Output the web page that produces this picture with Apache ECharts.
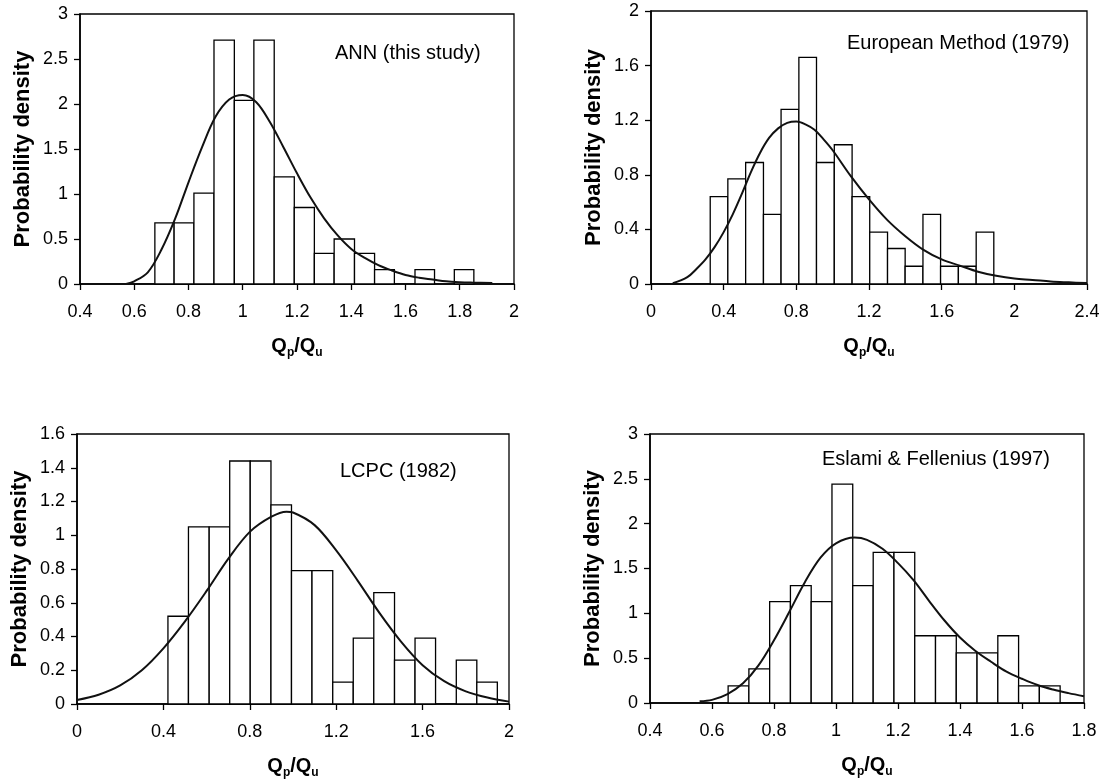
<!DOCTYPE html>
<html>
<head>
<meta charset="utf-8">
<title>Probability density of Qp/Qu</title>
<script src="https://cdn.jsdelivr.net/npm/echarts@6/dist/echarts.min.js"></script>
<style>
  html, body { margin: 0; padding: 0; background: #fff; }
  #chart { width: 1113px; height: 784px; }
</style>
</head>
<body>
<div id="chart"></div>
<script>
// ---- Histogram bin edges and densities (Qp/Qu), plus fitted density curves ----

// ANN (this study)
const annEdges = [0.676, 0.747, 0.820, 0.894, 0.969, 1.041, 1.116, 1.190, 1.264,
                  1.337, 1.412, 1.486, 1.559, 1.635, 1.707, 1.780, 1.852];
const annDensity = [0.68, 0.68, 1.01, 2.71, 2.04, 2.71, 1.19, 0.85,
                    0.34, 0.50, 0.34, 0.16, 0, 0.16, 0, 0.16];
const annCurveX = [0.57, 0.60, 0.65, 0.70, 0.75, 0.80, 0.85, 0.90, 0.95, 1.00, 1.05,
                   1.10, 1.15, 1.20, 1.25, 1.30, 1.35, 1.40, 1.45, 1.50, 1.55, 1.60,
                   1.65, 1.70, 1.75, 1.80, 1.85, 1.92];
const annCurveY = [0.00, 0.03, 0.13, 0.38, 0.72, 1.13, 1.52, 1.86, 2.05, 2.10, 2.02,
                   1.80, 1.52, 1.23, 0.96, 0.73, 0.54, 0.39, 0.29, 0.21, 0.15, 0.10,
                   0.07, 0.05, 0.03, 0.02, 0.015, 0.01];

// European Method (1979)
const euroEdges = [0.326, 0.423, 0.521, 0.619, 0.716, 0.814, 0.911, 1.009, 1.107,
                   1.204, 1.302, 1.399, 1.497, 1.594, 1.692, 1.790, 1.887];
const euroDensity = [0.64, 0.77, 0.89, 0.51, 1.28, 1.66, 0.89, 1.02,
                     0.64, 0.38, 0.26, 0.13, 0.51, 0.13, 0.13, 0.38];
const euroCurveX = [0.12, 0.20, 0.25, 0.30, 0.35, 0.40, 0.45, 0.50, 0.55, 0.60, 0.65,
                    0.70, 0.75, 0.80, 0.85, 0.90, 0.95, 1.00, 1.10, 1.20, 1.30, 1.40,
                    1.50, 1.60, 1.70, 1.80, 1.90, 2.00, 2.10, 2.20, 2.30, 2.40];
const euroCurveY = [0.005, 0.05, 0.11, 0.18, 0.27, 0.38, 0.51, 0.66, 0.82, 0.96, 1.07,
                    1.14, 1.18, 1.19, 1.17, 1.13, 1.06, 0.98, 0.79, 0.62, 0.47, 0.35,
                    0.25, 0.18, 0.135, 0.09, 0.06, 0.04, 0.03, 0.018, 0.012, 0.007];

// LCPC (1982)
const lcpcEdges = [0.421, 0.516, 0.612, 0.707, 0.802, 0.898, 0.993, 1.088, 1.184,
                   1.279, 1.374, 1.470, 1.565, 1.660, 1.756, 1.851, 1.946];
const lcpcDensity = [0.52, 1.05, 1.05, 1.44, 1.44, 1.18, 0.79, 0.79,
                     0.13, 0.39, 0.66, 0.26, 0.39, 0, 0.26, 0.13];
const lcpcCurveX = [0.00, 0.10, 0.20, 0.30, 0.40, 0.50, 0.60, 0.70, 0.80, 0.90, 0.97,
                    1.00, 1.10, 1.20, 1.30, 1.40, 1.50, 1.60, 1.70, 1.80, 1.90, 2.00];
const lcpcCurveY = [0.024, 0.055, 0.11, 0.20, 0.33, 0.49, 0.67, 0.86, 1.02, 1.11, 1.14,
                    1.135, 1.06, 0.91, 0.73, 0.54, 0.37, 0.23, 0.135, 0.075, 0.038, 0.014];

// Eslami & Fellenius (1997)
const efEdges = [0.652, 0.719, 0.786, 0.853, 0.920, 0.987, 1.054, 1.120, 1.187,
                 1.254, 1.321, 1.388, 1.455, 1.522, 1.589, 1.656, 1.723];
const efDensity = [0.19, 0.38, 1.13, 1.31, 1.13, 2.44, 1.31, 1.68,
                   1.68, 0.75, 0.75, 0.56, 0.56, 0.75, 0.19, 0.19];
const efCurveX = [0.56, 0.60, 0.65, 0.70, 0.75, 0.80, 0.85, 0.90, 0.95, 1.00, 1.06,
                  1.10, 1.15, 1.20, 1.25, 1.30, 1.35, 1.40, 1.45, 1.50, 1.55, 1.60,
                  1.65, 1.70, 1.75, 1.80];
const efCurveY = [0.02, 0.035, 0.10, 0.22, 0.42, 0.70, 1.02, 1.35, 1.62, 1.78, 1.845,
                  1.82, 1.72, 1.56, 1.37, 1.14, 0.92, 0.73, 0.58, 0.46, 0.35, 0.27,
                  0.20, 0.15, 0.11, 0.075];

// Axis ranges: [min, max, interval]
const annXAxis = [0.4, 2, 0.2],  annYAxis = [0, 3, 0.5];
const euroXAxis = [0, 2.4, 0.4], euroYAxis = [0, 2, 0.4];
const lcpcXAxis = [0, 2, 0.4],   lcpcYAxis = [0, 1.6, 0.2];
const efXAxis = [0.4, 1.8, 0.2], efYAxis = [0, 3, 0.5];

const panelLabels = ['ANN (this study)', 'European Method (1979)', 'LCPC (1982)', 'Eslami & Fellenius (1997)'];

// ---- Layout ----
const FONT = '"Liberation Sans", Arial, Helvetica, sans-serif';
const layout = [
  { grid: { left: 80,  top: 14,  width: 434, height: 270 }, note: [335, 53] },
  { grid: { left: 651, top: 11,  width: 436, height: 273 }, note: [847, 43] },
  { grid: { left: 77,  top: 434, width: 432, height: 270 }, note: [340, 471] },
  { grid: { left: 650, top: 434, width: 434, height: 269 }, note: [822, 459] }
];

const panels = [
  { edges: annEdges,  dens: annDensity,  cx: annCurveX,  cy: annCurveY,  xa: annXAxis,  ya: annYAxis },
  { edges: euroEdges, dens: euroDensity, cx: euroCurveX, cy: euroCurveY, xa: euroXAxis, ya: euroYAxis },
  { edges: lcpcEdges, dens: lcpcDensity, cx: lcpcCurveX, cy: lcpcCurveY, xa: lcpcXAxis, ya: lcpcYAxis },
  { edges: efEdges,   dens: efDensity,   cx: efCurveX,   cy: efCurveY,   xa: efXAxis,   ya: efYAxis }
];

const fmt = v => String(+v.toFixed(2));

function renderBin(params, api) {
  const x0 = api.value(0), x1 = api.value(1), h = api.value(2);
  if (!(h > 0)) return null;
  const pTop = api.coord([x0, h]);
  const pBot = api.coord([x1, 0]);
  return {
    type: 'rect',
    shape: { x: pTop[0], y: pTop[1], width: pBot[0] - pTop[0], height: pBot[1] - pTop[1] },
    style: { fill: '#fff', stroke: '#000', lineWidth: 1.3 }
  };
}

const grids = [], xAxes = [], yAxes = [], series = [], graphics = [];

panels.forEach((p, i) => {
  const L = layout[i];
  grids.push(Object.assign({ show: true, borderColor: '#000', borderWidth: 1.3,
                             backgroundColor: 'transparent' }, L.grid));
  xAxes.push({
    type: 'value', gridIndex: i, min: p.xa[0], max: p.xa[1], interval: p.xa[2],
    splitLine: { show: false },
    axisLine: { show: true, onZero: false, lineStyle: { color: '#000', width: 1.6 } },
    axisTick: { show: true, inside: false, length: 6, lineStyle: { color: '#000', width: 1.3 } },
    axisLabel: { color: '#000', fontSize: 18, fontFamily: FONT, margin: 19, formatter: fmt },
    name: '{b|Q}{s|p}{b|/Q}{s|u}',
    nameLocation: 'middle', nameGap: 52,
    nameTextStyle: {
      rich: {
        b: { fontSize: 20, fontWeight: 'bold', fontFamily: FONT, color: '#000', lineHeight: 23, verticalAlign: 'top' },
        s: { fontSize: 12, fontWeight: 'bold', fontFamily: FONT, color: '#000', lineHeight: 12, padding: [11, 0, 0, 0], verticalAlign: 'top' }
      }
    }
  });
  yAxes.push({
    type: 'value', gridIndex: i, min: p.ya[0], max: p.ya[1], interval: p.ya[2],
    splitLine: { show: false },
    axisLine: { show: true, lineStyle: { color: '#000', width: 1.6 } },
    axisTick: { show: true, inside: false, length: 6, lineStyle: { color: '#000', width: 1.3 } },
    axisLabel: { color: '#000', fontSize: 18, fontFamily: FONT, margin: 12, formatter: fmt },
    name: 'Probability density',
    nameLocation: 'middle', nameGap: 46,
    nameTextStyle: { fontSize: 22, fontWeight: 'bold', fontFamily: FONT, color: '#000' }
  });

  const bins = p.dens.map((h, k) => [p.edges[k], p.edges[k + 1], h]);
  series.push({
    type: 'custom', xAxisIndex: i, yAxisIndex: i,
    renderItem: renderBin,
    encode: { x: [0, 1], y: 2 },
    data: bins, z: 2, silent: true
  });
  series.push({
    type: 'line', xAxisIndex: i, yAxisIndex: i,
    data: p.cx.map((x, k) => [x, p.cy[k]]),
    smooth: 0.35, showSymbol: false, symbol: 'none',
    lineStyle: { color: '#111', width: 2 }, z: 3, silent: true
  });

  graphics.push({
    type: 'text', x: L.note[0], y: L.note[1], z: 10,
    style: { text: panelLabels[i], fill: '#000', fontSize: 20, fontFamily: FONT, verticalAlign: 'middle' }
  });
});

const chart = echarts.init(document.getElementById('chart'), null, { renderer: 'canvas' });
chart.setOption({
  backgroundColor: '#fff',
  animation: false,
  grid: grids,
  xAxis: xAxes,
  yAxis: yAxes,
  series: series,
  graphic: graphics
});
</script>
</body>
</html>
